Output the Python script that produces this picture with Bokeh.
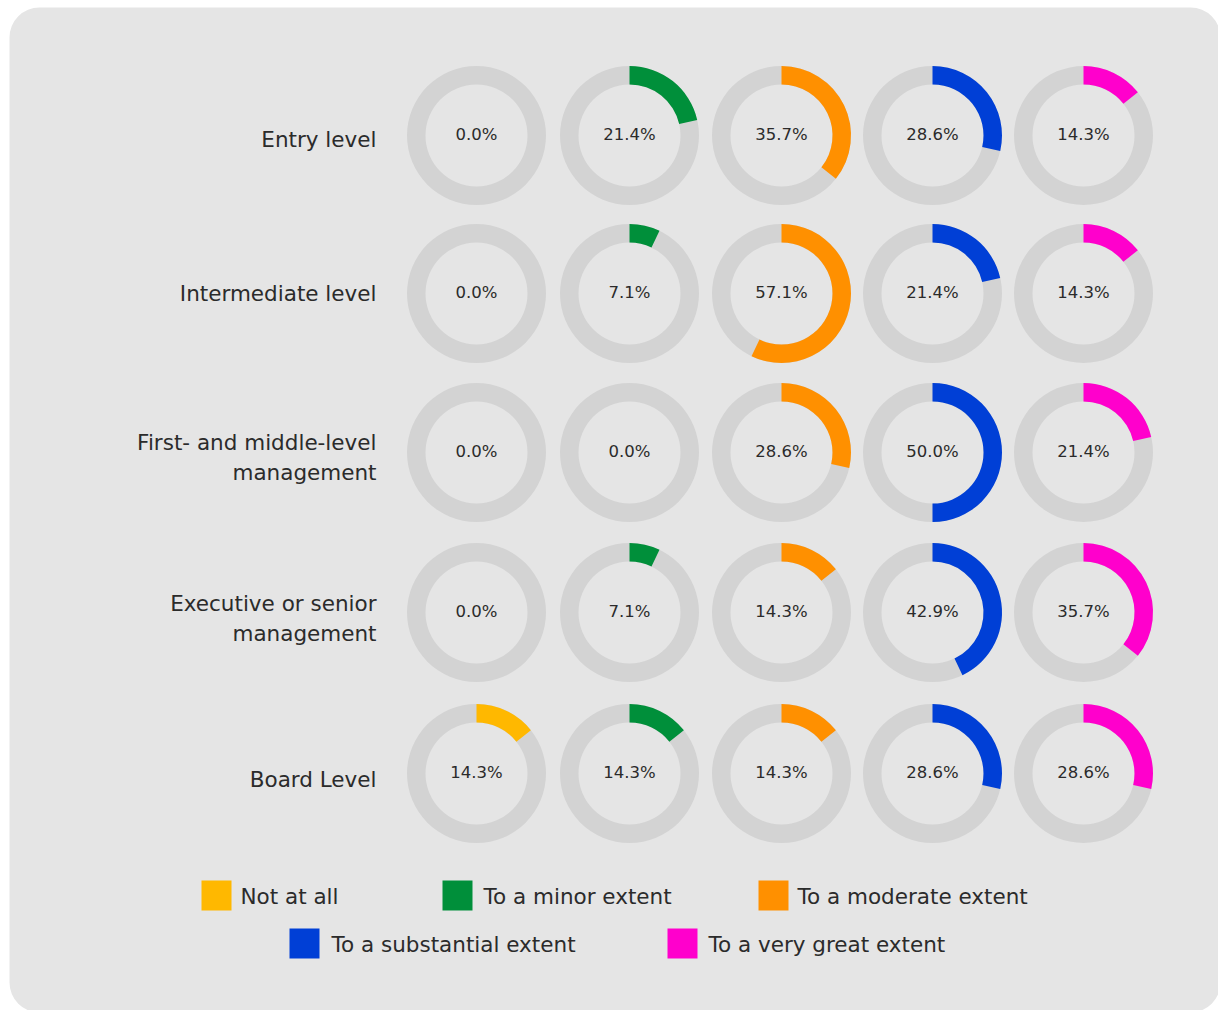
import math
from bokeh.plotting import figure
from bokeh.models import Range1d, BoxAnnotation
from bokeh.core.properties import value
from bokeh.embed import file_html
from bokeh.resources import INLINE

# ---- data ----
levels = ["Entry level", "Intermediate level", "First- and middle-level\nmanagement",
          "Executive or senior\nmanagement", "Board Level"]
categories = ["Not at all", "To a minor extent", "To a moderate extent",
              "To a substantial extent", "To a very great extent"]
colors = ["#FFB800", "#008F3A", "#FF9000", "#003FD6", "#FF00CC"]
not_at_all = [0.0, 0.0, 0.0, 0.0, 14.3]
minor = [21.4, 7.1, 0.0, 7.1, 14.3]
moderate = [35.7, 57.1, 28.6, 14.3, 14.3]
substantial = [28.6, 21.4, 50.0, 42.9, 28.6]
very_great = [14.3, 14.3, 21.4, 35.7, 28.6]
series = [not_at_all, minor, moderate, substantial, very_great]

# ---- layout (pixel positions, not data) ----
W, H = 1218, 1010
def dy(img_y):
    return H - img_y
def dx(img_x):
    return img_x

col_px = [476, 629, 781, 932, 1083]
row_px = [135, 293, 452, 612, 773]
label_shift = [4, 0, 5, 6, 6]
R_OUT, R_IN = 69.5, 51

p = figure(width=W, height=H, x_range=Range1d(0, W), y_range=Range1d(0, H),
           output_backend="svg", toolbar_location=None, min_border=0)
p.axis.visible = False
p.grid.visible = False
p.outline_line_color = None
p.background_fill_color = "white"
p.border_fill_color = "white"

p.add_layout(BoxAnnotation(left=dx(9), right=W + 2, top=dy(7), bottom=-2,
                           fill_color="#E5E5E5", fill_alpha=1, line_color=None,
                           border_radius=30, level="underlay"))

font = value("DejaVu Sans")
txt_color = "#2b2b2b"

gx, gy = [], []
wx, wy, ws, we, wc = [], [], [], [], []
tx, ty, tt = [], [], []
for i, lvl in enumerate(levels):
    cy = dy(row_px[i])
    for j, s in enumerate(series):
        cx = dx(col_px[j])
        v = s[i]
        gx.append(cx); gy.append(cy)
        if v > 0:
            wx.append(cx); wy.append(cy)
            ws.append(math.pi / 2 - v / 100 * 2 * math.pi)
            we.append(math.pi / 2)
            wc.append(colors[j])
        tx.append(cx); ty.append(cy + 1); tt.append(f"{v:.1f}%")

p.annulus(x=gx, y=gy, inner_radius=R_IN, outer_radius=R_OUT,
          inner_radius_units="screen", outer_radius_units="screen",
          fill_color="#D3D3D3", line_color=None)
p.annular_wedge(x=wx, y=wy, inner_radius=R_IN, outer_radius=R_OUT,
                inner_radius_units="screen", outer_radius_units="screen",
                start_angle=ws, end_angle=we, fill_color=wc, line_color=None)
p.text(x=tx, y=ty, text=tt, text_font=font, text_font_size="16.5px",
       text_color=txt_color, text_align="center", text_baseline="middle")

# row labels
lx = [dx(376)] * len(levels)
ly = [dy(row_px[i] + label_shift[i]) for i in range(len(levels))]
p.text(x=lx, y=ly, text=levels, text_font=font, text_font_size="21.5px",
       text_color=txt_color, text_align="right", text_baseline="middle",
       text_line_height=1.17)

# legend
leg_sq_x = [216, 457, 773, 304, 682]
leg_y = [895, 895, 895, 943, 943]
leg_txt_dx = [24, 26, 24, 27, 26]
p.rect(x=[dx(v) for v in leg_sq_x], y=[dy(v) for v in leg_y], width=30, height=30,
       fill_color=colors, line_color=None)
p.text(x=[dx(v + d) for v, d in zip(leg_sq_x, leg_txt_dx)], y=[dy(v) - 1 for v in leg_y],
       text=categories, text_font=font, text_font_size="21.5px", text_color=txt_color,
       text_align="left", text_baseline="middle")

open("out.html", "w").write(file_html(p, INLINE))
